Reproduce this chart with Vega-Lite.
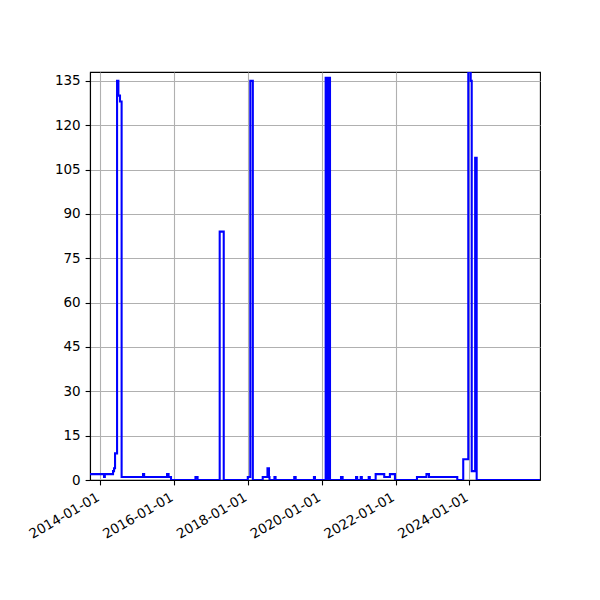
{
  "$schema": "https://vega.github.io/schema/vega-lite/v6.json",
  "width": 450,
  "height": 408,
  "autosize": "none",
  "padding": {"left": 90, "top": 72, "right": 60, "bottom": 120},
  "background": "white",
  "config": {
    "view": {"stroke": "black", "strokeWidth": 1.1},
    "axis": {
      "labelFont": "DejaVu Sans",
      "labelFontSize": 13.5,
      "labelColor": "black",
      "tickColor": "black",
      "tickWidth": 1.1,
      "tickSize": 4.9,
      "labelPadding": 4.9,
      "domainColor": "black",
      "domainWidth": 1.1,
      "gridColor": "#b0b0b0",
      "gridWidth": 1.1,
      "gridOpacity": 1,
      "title": null
    }
  },
  "data": {
    "values": [
      {"date": "2013-09-20", "value": 2},
      {"date": "2014-02-06", "value": 1},
      {"date": "2014-02-14", "value": 2},
      {"date": "2014-05-06", "value": 3},
      {"date": "2014-05-16", "value": 4},
      {"date": "2014-05-26", "value": 9},
      {"date": "2014-06-15", "value": 135},
      {"date": "2014-06-28", "value": 130},
      {"date": "2014-07-14", "value": 128},
      {"date": "2014-07-30", "value": 1},
      {"date": "2015-02-27", "value": 2},
      {"date": "2015-03-10", "value": 1},
      {"date": "2015-10-23", "value": 2},
      {"date": "2015-11-07", "value": 1},
      {"date": "2015-12-01", "value": 0},
      {"date": "2016-07-30", "value": 1},
      {"date": "2016-08-20", "value": 0},
      {"date": "2017-03-27", "value": 84},
      {"date": "2017-05-06", "value": 0},
      {"date": "2017-12-30", "value": 1},
      {"date": "2018-01-24", "value": 135},
      {"date": "2018-02-18", "value": 0},
      {"date": "2018-05-27", "value": 1},
      {"date": "2018-07-13", "value": 4},
      {"date": "2018-07-28", "value": 1},
      {"date": "2018-08-02", "value": 0},
      {"date": "2018-09-20", "value": 1},
      {"date": "2018-10-01", "value": 0},
      {"date": "2019-04-04", "value": 1},
      {"date": "2019-04-18", "value": 0},
      {"date": "2019-10-16", "value": 1},
      {"date": "2019-10-26", "value": 0},
      {"date": "2020-02-09", "value": 136},
      {"date": "2020-02-19", "value": 0},
      {"date": "2020-02-21", "value": 136},
      {"date": "2020-03-01", "value": 0},
      {"date": "2020-03-03", "value": 136},
      {"date": "2020-03-12", "value": 0},
      {"date": "2020-03-14", "value": 136},
      {"date": "2020-03-23", "value": 0},
      {"date": "2020-07-10", "value": 1},
      {"date": "2020-07-26", "value": 0},
      {"date": "2020-12-06", "value": 1},
      {"date": "2020-12-17", "value": 0},
      {"date": "2021-01-21", "value": 1},
      {"date": "2021-02-01", "value": 0},
      {"date": "2021-04-10", "value": 1},
      {"date": "2021-04-21", "value": 0},
      {"date": "2021-06-18", "value": 2},
      {"date": "2021-09-11", "value": 1},
      {"date": "2021-11-06", "value": 2},
      {"date": "2021-12-26", "value": 0},
      {"date": "2022-08-01", "value": 1},
      {"date": "2022-11-03", "value": 2},
      {"date": "2022-11-28", "value": 1},
      {"date": "2023-09-04", "value": 0},
      {"date": "2023-11-02", "value": 7},
      {"date": "2023-12-22", "value": 138},
      {"date": "2024-01-15", "value": 135},
      {"date": "2024-01-25", "value": 3},
      {"date": "2024-02-28", "value": 109},
      {"date": "2024-03-14", "value": 0},
      {"date": "2025-12-01", "value": 0}
    ]
  },
  "mark": {"type": "line", "interpolate": "step-after", "color": "#0000ff", "strokeWidth": 2.08, "clip": true},
  "encoding": {
    "x": {
      "field": "date",
      "type": "temporal",
      "scale": {
        "type": "utc",
        "domain": [
          {"year": 2013, "month": 9, "date": 20, "utc": true},
          {"year": 2025, "month": 12, "date": 1, "utc": true}
        ],
        "nice": false
      },
      "axis": {
        "values": [
          {"year": 2014, "month": 1, "date": 1, "utc": true},
          {"year": 2016, "month": 1, "date": 1, "utc": true},
          {"year": 2018, "month": 1, "date": 1, "utc": true},
          {"year": 2020, "month": 1, "date": 1, "utc": true},
          {"year": 2022, "month": 1, "date": 1, "utc": true},
          {"year": 2024, "month": 1, "date": 1, "utc": true}
        ],
        "labelExpr": "utcFormat(datum.value, '%Y-%m-%d')",
        "labelAngle": -30,
        "labelAlign": "right",
        "labelBaseline": "top",
        "labelOffset": -6,
        "grid": true,
        "labelFlush": false,
        "labelOverlap": false
      }
    },
    "y": {
      "field": "value",
      "type": "quantitative",
      "scale": {"domain": [0, 138], "nice": false, "zero": true},
      "axis": {
        "values": [0, 15, 30, 45, 60, 75, 90, 105, 120, 135],
        "grid": true,
        "labelFlush": false,
        "labelOverlap": false
      }
    }
  }
}
